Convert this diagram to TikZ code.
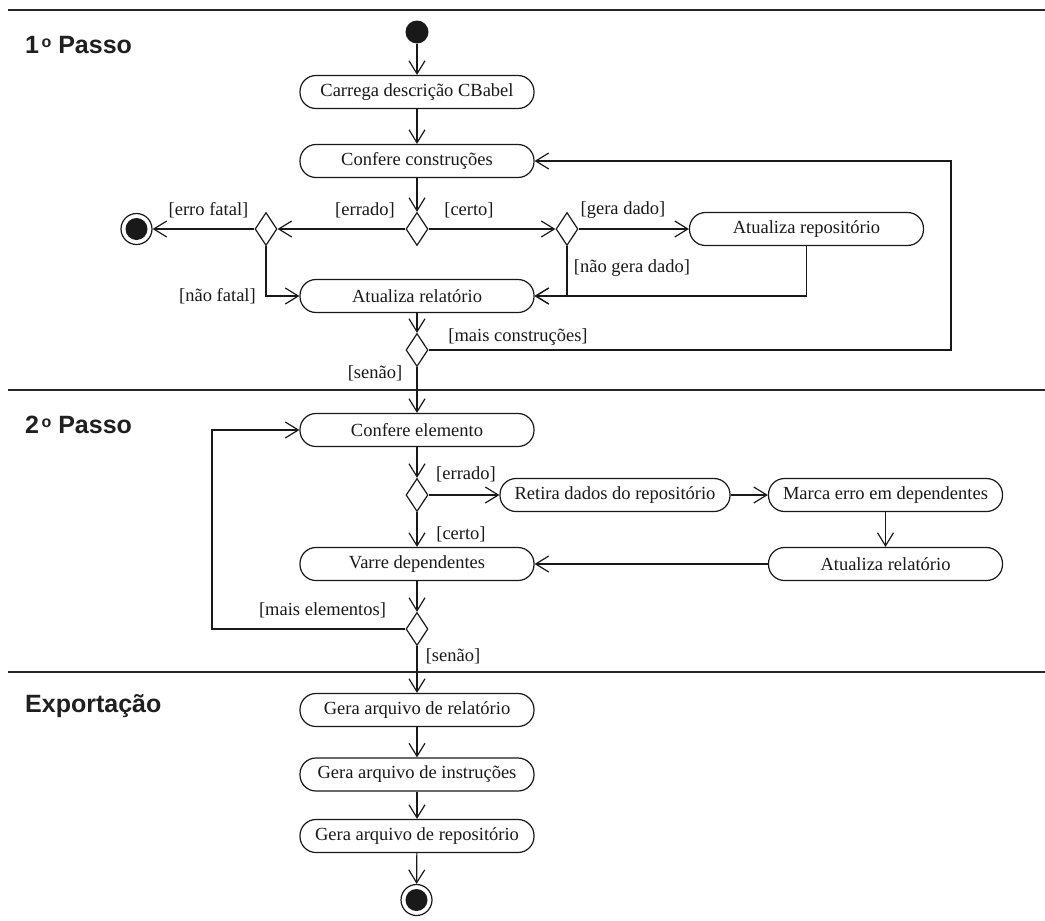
\documentclass[tikz,border=0pt]{standalone}
\usepackage{fontspec}
\setmainfont{Liberation Serif}
\newfontfamily\titlefont{Liberation Sans}
\usetikzlibrary{arrows.meta,shapes.geometric}

% small raised "o" of the ordinal in the lane titles
\newcommand{\ordo}{\hspace{2.5pt}\raisebox{5.5pt}{\fontsize{16}{16}\selectfont o}}

\begin{document}
\begin{tikzpicture}[x=1pt,y=-1pt,
  ink/.style={draw=black!90, line width=1.2pt},
  action/.style={ink, rectangle, rounded corners=16pt, minimum width=234pt,
    minimum height=33pt, inner sep=0pt, text=black!90, font=\fontsize{18.5}{20}\selectfont},
  choice/.style={ink, diamond, minimum width=22pt, minimum height=33pt, inner sep=0pt},
  startnode/.style={circle, fill=black!90, minimum size=23pt, inner sep=0pt},
  endnode/.style={circle, draw=black!90, line width=1.2pt, minimum size=31pt, inner sep=0pt,
    path picture={\fill[black!90] (path picture bounding box.center) circle (11pt);}},
  flow/.style={ink, -{Straight Barb[length=13pt,width=16pt]}},
  guard/.style={font=\fontsize{18.5}{20}\selectfont, text=black!90, inner sep=0pt},
  lane/.style={draw=black!85, line width=1.4pt},
  title/.style={font=\titlefont\bfseries\fontsize{25}{28}\selectfont, text=black!88,
    anchor=base west, inner sep=0pt}]

\useasboundingbox (0,0) rectangle (1045,921);

% swimlane separators
\draw[lane] (8,10) -- (1045,10);
\draw[lane] (8,390) -- (1045,390);
\draw[lane] (8,672) -- (1045,672);

% lane titles
\node[title] (t1) at (25,53) {1\ordo{} Passo};
\node[title] (t2) at (25,433) {2\ordo{} Passo};
\node[title] (t3) at (25,712) {Exportação};

% first step
\node[startnode] (start) at (417,32) {};
\node[action] (carrega) at (417,92) {Carrega descrição CBabel};
\node[action] (confC) at (417,161) {Confere construções};
\node[choice] (d1) at (417,229) {};
\node[choice] (d2) at (266,229) {};
\node[endnode] (fim1) at (136.5,229) {};
\node[choice] (d3) at (567,229) {};
\node[action] (atRepo) at (806.5,229) {Atualiza repositório};
\node[action] (atRel) at (417,296) {Atualiza relatório};
\node[choice] (d4) at (417,350) {};

% second step
\node[action] (confE) at (417,430) {Confere elemento};
\node[choice] (d5) at (417,495) {};
\node[action, minimum width=230pt] (retira) at (615,495) {Retira dados do repositório};
\node[action] (marca) at (885.5,495) {Marca erro em dependentes};
\node[action] (varre) at (417,564) {Varre dependentes};
\node[action] (atRel2) at (885.5,564) {Atualiza relatório};
\node[choice] (d6) at (417,629) {};

% export
\node[action] (gera1) at (417,710) {Gera arquivo de relatório};
\node[action] (gera2) at (417,774.5) {Gera arquivo de instruções};
\node[action] (gera3) at (417,836) {Gera arquivo de repositório};
\node[endnode] (fim2) at (416.5,900) {};

% loop rails
\coordinate (rr) at (951,0);
\coordinate (ll) at (212,0);

% flows, first step
\draw[flow] (start) -- (carrega);
\draw[flow] (carrega) -- (confC);
\draw[flow] (confC) -- (d1);
\draw[flow] (d1) -- (d2);
\draw[flow] (d1) -- (d3);
\draw[flow] (d2) -- (fim1);
\draw[flow] (d2.south) |- (atRel.west);
\draw[flow] (d3) -- (atRepo);
\draw[flow] (d3.south) |- (atRel.east);
\draw[flow] (atRepo.south) |- (atRel.east);
\draw[flow] (atRel) -- (d4);
\draw[flow] (d4.east) -- (d4.east -| rr) |- (confC.east);
\draw[flow] (d4) -- (confE);

% flows, second step
\draw[flow] (confE) -- (d5);
\draw[flow] (d5) -- (retira);
\draw[flow] (d5) -- (varre);
\draw[flow] (retira) -- (marca);
\draw[flow] (marca) -- (atRel2);
\draw[flow] (atRel2) -- (varre);
\draw[flow] (varre) -- (d6);
\draw[flow] (d6.west) -- (d6.west -| ll) |- (confE.west);
\draw[flow] (d6) -- (gera1);

% flows, export
\draw[flow] (gera1) -- (gera2);
\draw[flow] (gera2) -- (gera3);
\draw[flow] (gera3) -- (fim2);

% guards
\node[guard] (g1) at (208.5,210) {[erro fatal]};
\node[guard] (g2) at (365,210) {[errado]};
\node[guard] (g3) at (469,210) {[certo]};
\node[guard] (g4) at (623,210) {[gera dado]};
\node[guard] (g5) at (632,268) {[não gera dado]};
\node[guard] (g6) at (217.5,296) {[não fatal]};
\node[guard] (g7) at (518,337) {[mais construções]};
\node[guard] (g8) at (375,373) {[senão]};
\node[guard] (g9) at (466,474.5) {[errado]};
\node[guard] (g10) at (461,534) {[certo]};
\node[guard] (g11) at (322.5,610.5) {[mais elementos]};
\node[guard] (g12) at (453,656) {[senão]};
\end{tikzpicture}
\end{document}
